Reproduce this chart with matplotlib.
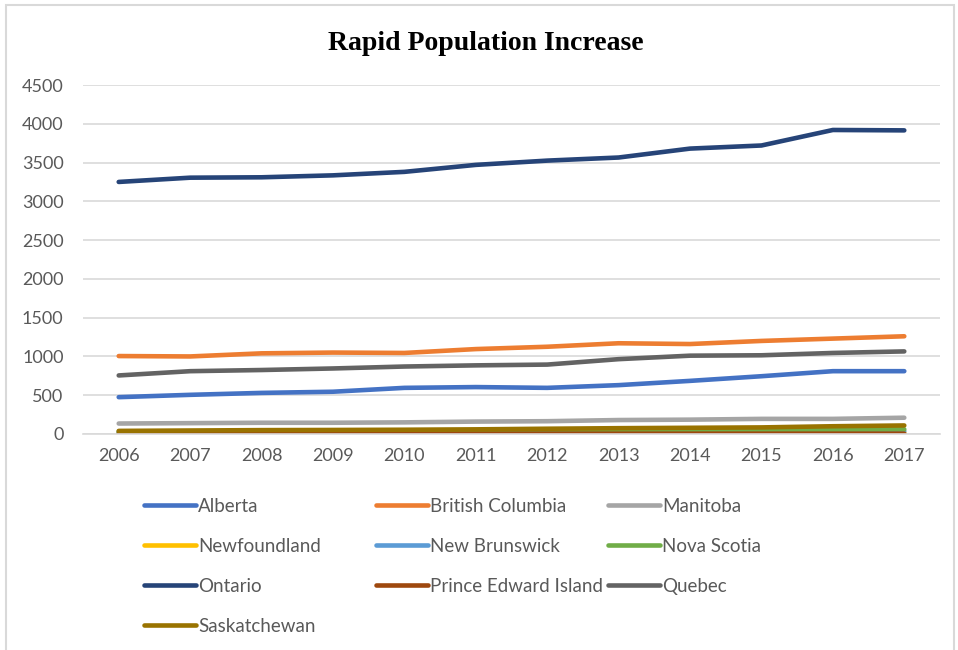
import matplotlib
matplotlib.use("Agg")
import matplotlib.pyplot as plt
from matplotlib.patches import Rectangle

years = ["2006", "2007", "2008", "2009", "2010", "2011", "2012", "2013", "2014", "2015", "2016", "2017"]

alberta = [475, 505, 530, 545, 595, 605, 595, 630, 685, 745, 810, 810]
british_columbia = [1005, 1000, 1040, 1050, 1045, 1095, 1125, 1170, 1160, 1200, 1230, 1260]
manitoba = [135, 140, 145, 145, 150, 160, 165, 180, 185, 195, 195, 210]
newfoundland = [10, 10, 10, 12, 12, 12, 12, 12, 12, 12, 12, 12]
new_brunswick = [22, 22, 23, 24, 25, 26, 27, 28, 29, 30, 32, 35]
nova_scotia = [30, 30, 32, 34, 36, 38, 40, 42, 45, 48, 55, 60]
ontario = [3250, 3305, 3310, 3335, 3380, 3470, 3525, 3565, 3680, 3720, 3920, 3915]
prince_edward_island = [3, 3, 3, 3, 3, 4, 4, 4, 4, 4, 4, 4]
quebec = [755, 810, 825, 845, 870, 885, 895, 965, 1010, 1015, 1045, 1065]
saskatchewan = [40, 45, 50, 52, 55, 60, 68, 75, 80, 85, 100, 110]

names = ["Alberta", "British Columbia", "Manitoba", "Newfoundland", "New Brunswick",
         "Nova Scotia", "Ontario", "Prince Edward Island", "Quebec", "Saskatchewan"]
series = [alberta, british_columbia, manitoba, newfoundland, new_brunswick,
          nova_scotia, ontario, prince_edward_island, quebec, saskatchewan]
colors = ["#4472C4", "#ED7D31", "#A5A5A5", "#FFC000", "#5B9BD5",
          "#70AD47", "#264478", "#9E480E", "#636363", "#997300"]

W, H = 958, 650
fig = plt.figure(figsize=(W / 100, H / 100), dpi=100)
fig.patches.append(Rectangle((6 / W, -0.1), (954 - 6) / W, 1.1 - 5 / H,
                             transform=fig.transFigure, fill=False,
                             edgecolor="#D9D9D9", linewidth=1.5))

ax = fig.add_axes([83 / W, 1 - 434 / H, (940 - 83) / W, (434 - 85) / H])
x = list(range(len(years)))
handles = []
for name, vals, c in zip(names, series, colors):
    (ln,) = ax.plot(x, vals, color=c, linewidth=3.3, solid_capstyle="round",
                    solid_joinstyle="round", label=name)
    handles.append(ln)

ax.set_xlim(-0.5, len(years) - 0.5)
ax.set_ylim(0, 4500)
ax.set_yticks(range(0, 4501, 500))
ax.set_xticks(x)
ax.set_xticklabels(years)
ax.yaxis.grid(True, color="#D9D9D9", linewidth=1.2)
ax.set_axisbelow(True)
for s in ["top", "right", "left"]:
    ax.spines[s].set_visible(False)
ax.spines["bottom"].set_color("#D9D9D9")
ax.spines["bottom"].set_linewidth(1.2)
ax.tick_params(length=0, labelsize=13, labelcolor="#595959", pad=10, labelfontfamily="Lato")
ax.tick_params(axis="y", pad=14)

fig.text(486 / W, 1 - 43 / H, "Rapid Population Increase", ha="center", va="center",
         fontsize=20, fontweight="bold", family="Liberation Serif")

cols = [[0, 3, 6, 9], [1, 4, 7], [2, 5, 8]]
col_x = [144, 376, 608]
for cx, idxs in zip(col_x, cols):
    leg = fig.legend([handles[i] for i in idxs], [names[i] for i in idxs],
                     loc="upper left", bbox_to_anchor=(cx / W, 1 - 498 / H),
                     frameon=False, handlelength=2.75, handletextpad=0.15,
                     labelspacing=1.22, borderaxespad=0, borderpad=0,
                     prop={"family": "Lato", "size": 13.5})
    for t in leg.get_texts():
        t.set_color("#595959")

fig.savefig("out.png", dpi=100)
